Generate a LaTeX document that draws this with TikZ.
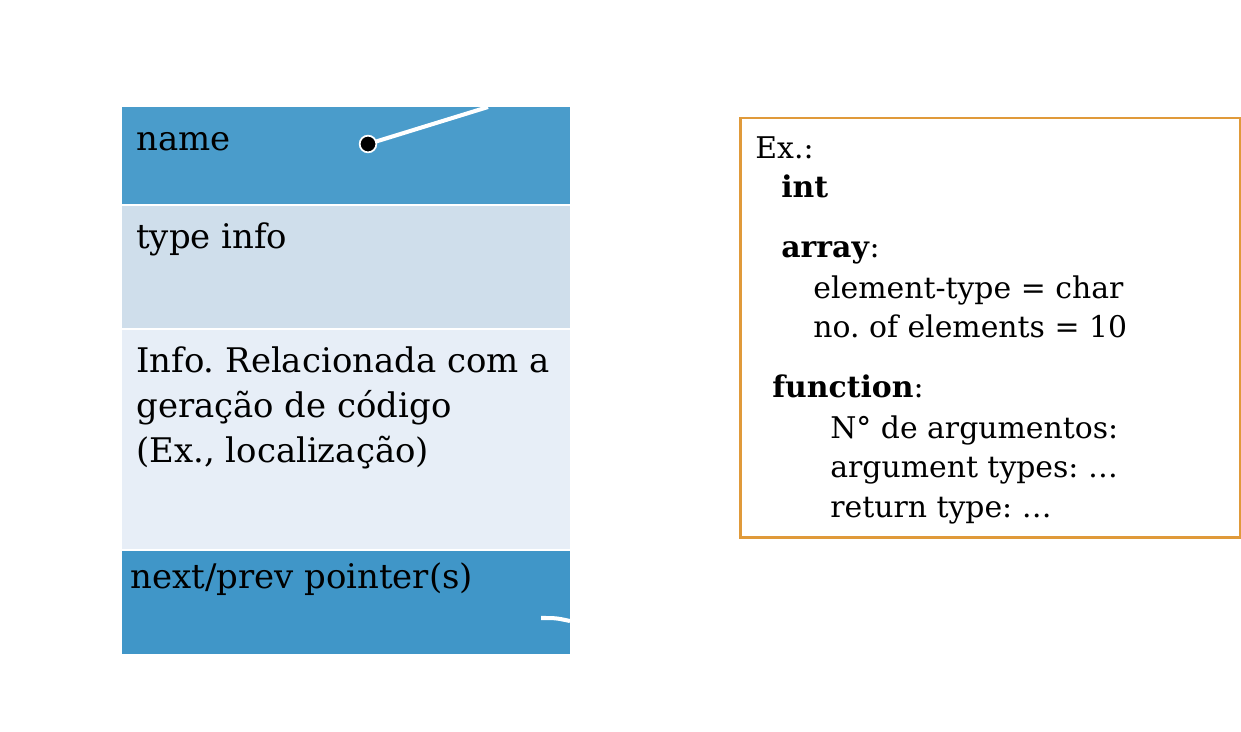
\documentclass[tikz,border=0pt]{standalone}
\usepackage{fontspec}
\setmainfont{DejaVu Serif}
\frenchspacing
\definecolor{rowdark}{HTML}{4A9CCB}
\definecolor{rowlast}{HTML}{4096C8}
\definecolor{rowmid}{HTML}{CFDEEB}
\definecolor{rowlight}{HTML}{E7EEF7}
\definecolor{boxline}{HTML}{E09A3A}

\begin{document}
\begin{tikzpicture}[
    x = 0.02cm, y = -0.02cm,
    every node/.style = {font = \fontsize{17}{22}\selectfont, inner sep = 0pt},
    label/.style = {anchor = base west},
    cell/.style = {label, font = \fontsize{19.3}{24}\selectfont},
    sep/.style = {white, line width = 1.5pt},
    ptr/.style = {white, line width = 2.3pt}]

\useasboundingbox (0,0) rectangle (1241,731);

% table rows
\fill[rowdark]  (122,107) rectangle (570,205);
\fill[rowmid]   (122,205) rectangle (570,329);
\fill[rowlight] (122,329) rectangle (570,550);
\fill[rowlast]  (122,550) rectangle (570,654);
\draw[sep] (122,205) -- (570,205)
	  (122,329) -- (570,329)
	  (122,550) -- (570,550);

\node[cell] (name) at (136,150) {name};
\node[cell] (type) at (136,248) {type info};
\node[cell] (info1) at (136,372) {Info. Relacionada com a};
\node[cell] (info2) at (136,417) {geração de código};
\node[cell] (info3) at (136,462) {(Ex., localização)};
\node[cell] (next) at (130,588) {next/prev pointer(s)};

% pointers
\coordinate (up) at (488,107);
\draw[ptr] (368,144) -- (up);
\node[circle, fill = black, draw = white, line width = 1pt,
      minimum size = 9.5pt] (dot) at (368,144) {};
\coordinate (pa) at (541,618);
\coordinate (pb) at (570,621);
\draw[ptr] (pa) .. controls (556,618) .. (pb);

% example box
\draw[boxline, line width = 1.7pt] (740,118) rectangle (1240,537);
\node[label] (ex) at (755,158) {Ex.:};
\node[label] (int) at (781,197) {\textbf{int}};
\node[label] (arr) at (781,257) {\textbf{array}:};
\node[label] (elt) at (813,298) {element-type = char};
\node[label] (num) at (813,337) {no. of elements = 10};
\node[label] (fun) at (772,397) {\textbf{function}:};
\node[label] (narg) at (830,438) {N° de argumentos:};
\node[label] (targ) at (830,477) {argument types: …};
\node[label] (ret) at (830,517) {return type: …};
\end{tikzpicture}
\end{document}
